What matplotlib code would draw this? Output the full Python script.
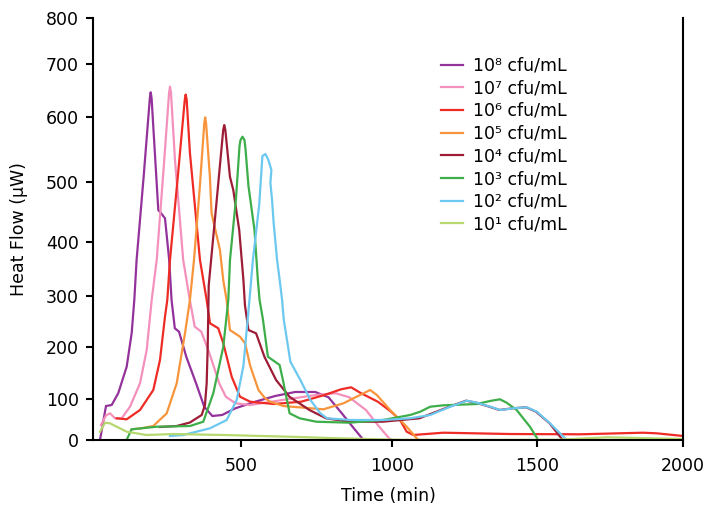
import numpy as np
import matplotlib
matplotlib.use("Agg")
import matplotlib.pyplot as plt

plt.rcParams['font.family'] = ['DejaVu Sans']

# ---------------- data (time in min, heat flow in uW) ----------------
t_1e8 = [23.6, 43.9, 63.2, 85.5, 113.8, 130.7, 139.5, 147.3, 171.3, 192, 194.9, 198, 203.7, 220.6, 232.1, 243.2,
         257.4, 265.4, 276.4, 290.6, 315.1, 348.2, 375.7, 403.2, 436.3, 480.7, 547.1, 613.3, 679.5,
         745.8, 789.8, 833.8, 878.2, 905.7]
q_1e8 = [0, 82.9, 85.4, 111.5, 162.1, 227.5, 292, 366.7, 508.8, 635, 646.3, 635, 584.6, 453, 446.4, 439.3,
         366.7, 292.2, 236.7, 230, 181.3, 130.2, 81.2, 58.5, 61, 77.3, 93.4, 105.8, 113.5,
         113.5, 103.3, 65.1, 24.4, 0]

t_1e7 = [27, 43.9, 57.4, 74.3, 96.9, 125, 158.8, 181.4, 198.3, 215.2, 237.5, 257, 260.1, 263.5, 277, 304.7, 327.1,
         343.7, 365.9, 393.4, 426.5, 448.7, 481.8, 529.8, 637.5, 748.1, 814.3, 858.3, 913.6, 957.6,
         990.7, 1000]
q_1e7 = [36.6, 60, 65.1, 52.9, 52.9, 81.2, 130.2, 194.2, 292.2, 366.7, 513.4, 645, 656.9, 645, 533.4, 366.7, 292.2,
         239.8, 230, 187.9, 130.2, 104.4, 89.5, 85.4, 97.6, 107.7, 111, 103.3, 73.2, 32.4,
         4.1, 0]

t_1e6 = [80, 113.8, 158.8, 203.7, 226.3, 243.2, 251, 260.1, 286.5, 310, 313.1, 316.5, 327.5, 361.4, 384, 395.2,
         423.2, 440.2, 468.5, 496.6, 530.3, 609, 699.2, 776.4, 831.6, 864.7, 897.8, 953.1, 997.2,
         1027.6, 1050.7, 1073.5, 1177, 1406.9, 1647.3, 1863, 1910, 2000]
q_1e6 = [52.9, 50.5, 73.2, 117.3, 175, 259.4, 292.2, 366.7, 507.7, 632, 642, 632, 544.1, 366.7, 292.2, 246.5,
         236.7, 207.3, 142.9, 104.4, 93.4, 87.8, 93.4, 107.7, 118.7, 122.5, 111, 93.4, 69,
         48.8, 20.2, 12.2, 17.8, 14.6, 13.9, 17.8, 16.3, 9.8]

t_1e5 = [130.7, 158.8, 203.7, 249, 282.8, 310.8, 327.5, 341.2, 360.4, 376, 379, 382, 394.9, 400.6, 428.9, 440,
         451.4, 462.6, 496.6, 513.5, 530.3, 557.8, 580, 596.5, 640.5, 772.9, 839.1, 894.4, 927.5,
         949.7, 993.8, 1050.7, 1085.2, 1093]
q_1e5 = [26.1, 28, 34.1, 65.1, 130.2, 226.9, 292.2, 366.7, 488.4, 590, 599, 590, 507.7, 447.6, 385.2, 329.6,
         292.2, 233.3, 220.2, 207.3, 164, 117.3, 101.3, 93.4, 82.9, 74.9, 89.5, 107.7, 117.3,
         107.7, 73.2, 32.4, 4.1, 0]

t_1e4 = [226.3, 282.7, 327.5, 367.2, 378.3, 384, 387.5, 391, 417.2, 440, 443.4, 447, 462.6, 473.9, 494, 508,
         513, 524.6, 550, 577.5, 616.2, 660.3, 726.5, 781.8, 858.9, 969.2, 1094.3, 1197.8, 1255.4,
         1289.9, 1335.8, 1370.2, 1416.1, 1462.3, 1496.8, 1543.3, 1583.4, 1588]
q_1e4 = [31.7, 34.1, 42.7, 61, 85.4, 130.2, 200, 320, 465.5, 580, 587.2, 580, 507.7, 486.2, 419.9, 329.6,
         282.4, 233.3, 226.8, 181.3, 136.5, 104.4, 73.2, 52.9, 44.6, 44.6, 52.9, 81.2, 95.9,
         91, 81.2, 73.2, 77.3, 79.8, 69, 40.7, 4.1, 0]

t_1e3 = [113.5, 130.4, 214.9, 327.5, 372.6, 406.4, 440.2, 457.1, 462.8, 483, 495, 498.3, 505, 511.6, 515, 524.6,
         544.6, 555.8, 561.5, 572.5, 589.1, 627.8, 638.8, 661, 694.1, 749.4, 859.9, 970.2, 1062.8,
         1097.2, 1131.7, 1177.6, 1292.7, 1337.6, 1372.2, 1395.3, 1429.7, 1475.6, 1500]
q_1e3 = [0, 26.1, 32.4, 34.1, 44.6, 111, 200.6, 292.2, 366.7, 471.8, 555, 564.1, 569.2, 564.1, 550, 493.4,
         419.9, 329.6, 292.2, 254.5, 181.3, 165.4, 136.5, 65.1, 52.9, 44.6, 42.2, 48.8, 61,
         69, 81.2, 84.6, 87.8, 95.1, 99.3, 91, 73.2, 32.4, 4.9]

t_1e2 = [260, 305, 395.2, 451.6, 485.4, 507.9, 528, 539.4, 560.2, 570.9, 580.8, 590.7, 600.6, 597.3,
         602.9, 608.2, 619.5, 628.1, 636.1, 641.4, 663.5, 696.6, 729.7, 762.8, 785, 862.2, 972.5,
         1062.8, 1131.7, 1200.7, 1258.3, 1292.7, 1338.5, 1373, 1418.9, 1465.1, 1499.5, 1544.5, 1601.7]
q_1e2 = [9.8, 12.2, 28.5, 48.8, 97.6, 163.5, 292.2, 366.7, 461.3, 539.5, 542.6, 533.4, 518, 498,
         469.6, 431, 366.7, 329.6, 292.2, 254.5, 171.7, 136.5, 97.6, 65.1, 52.9, 48.8, 48.8,
         52.9, 61, 81.2, 95.9, 91, 81.2, 73.2, 77.3, 79.8, 69, 40.7, 0]

t_1e1 = [23.6, 40.5, 57.4, 80, 113.8, 181.1, 271, 440.2, 661, 826.9, 1027.6, 1372, 1569, 1743, 2000]
q_1e1 = [20.2, 42.2, 40.7, 32.4, 20.2, 12.2, 14.6, 12.2, 8, 4.1, 0.5, 0.3, 0.5, 6.6, 2.4]

series_labels = ['10\u2078 cfu/mL', '10\u2077 cfu/mL', '10\u2076 cfu/mL', '10\u2075 cfu/mL',
                 '10\u2074 cfu/mL', '10\u00b3 cfu/mL', '10\u00b2 cfu/mL', '10\u00b9 cfu/mL']
series_colors = ['#93329B', '#F391BC', '#EE2B25', '#F8943B', '#9D1D37', '#3DAE49', '#6CC8EF', '#B6D86E']

y_ticks = [0, 100, 200, 300, 400, 500, 600, 700, 800]
x_ticks = [500, 1000, 1500, 2000]

# ------------- non-uniform axis scales of the original graphic -------------
y_scale_pts = [0, 41, 93, 144, 198, 258.3, 323.3, 376, 422]
x_scale_pts = [0, 148, 299, 444, 590]
x_scale_vals = [0, 500, 1000, 1500, 2000]


def make_pw(src, dst):
    src = np.asarray(src, float)
    dst = np.asarray(dst, float)
    s0 = (dst[1] - dst[0]) / (src[1] - src[0])
    s1 = (dst[-1] - dst[-2]) / (src[-1] - src[-2])

    def f(v):
        v = np.asarray(v, float)
        out = np.interp(v, src, dst)
        out = np.where(v < src[0], dst[0] + (v - src[0]) * s0, out)
        out = np.where(v > src[-1], dst[-1] + (v - src[-1]) * s1, out)
        return out
    return f


fig = plt.figure(figsize=(7.13, 5.05), dpi=100)
ax = fig.add_axes([93 / 713, 65 / 505, 590 / 713, 422 / 505])

ax.set_yscale('function', functions=(make_pw(y_ticks, y_scale_pts), make_pw(y_scale_pts, y_ticks)))
ax.set_xscale('function', functions=(make_pw(x_scale_vals, x_scale_pts), make_pw(x_scale_pts, x_scale_vals)))

all_t = [t_1e8, t_1e7, t_1e6, t_1e5, t_1e4, t_1e3, t_1e2, t_1e1]
all_q = [q_1e8, q_1e7, q_1e6, q_1e5, q_1e4, q_1e3, q_1e2, q_1e1]
for t, q, lab, col in zip(all_t, all_q, series_labels, series_colors):
    ax.plot(t, q, color=col, lw=1.6, label=lab, solid_joinstyle='round')

ax.set_xlim(0, 2000)
ax.set_ylim(0, 800)
ax.set_yticks(y_ticks)
ax.set_xticks(x_ticks)
ax.set_yticklabels([str(v) for v in y_ticks])
ax.set_xticklabels([str(v) for v in x_ticks])
ax.minorticks_off()

for s in ['left', 'bottom', 'right']:
    ax.spines[s].set_linewidth(1.5)
    ax.spines[s].set_color('black')
ax.spines['top'].set_visible(False)
ax.tick_params(direction='out', length=5, width=1.5, labelsize=12.5, colors='black',
               right=False, top=False)
ax.tick_params(axis='y', pad=5)
ax.tick_params(axis='x', pad=7)

ax.set_xlabel('Time (min)', fontsize=12.5, labelpad=9)
ax.set_ylabel('Heat Flow (\u03bcW)', fontsize=12.5, labelpad=13)

leg = ax.legend(loc='upper left', bbox_to_anchor=(0.578, 0.925), frameon=False,
                fontsize=12.5, handlelength=1.25, handletextpad=0.6, labelspacing=0.27,
                borderaxespad=0)

fig.savefig('out.png', dpi=100)
